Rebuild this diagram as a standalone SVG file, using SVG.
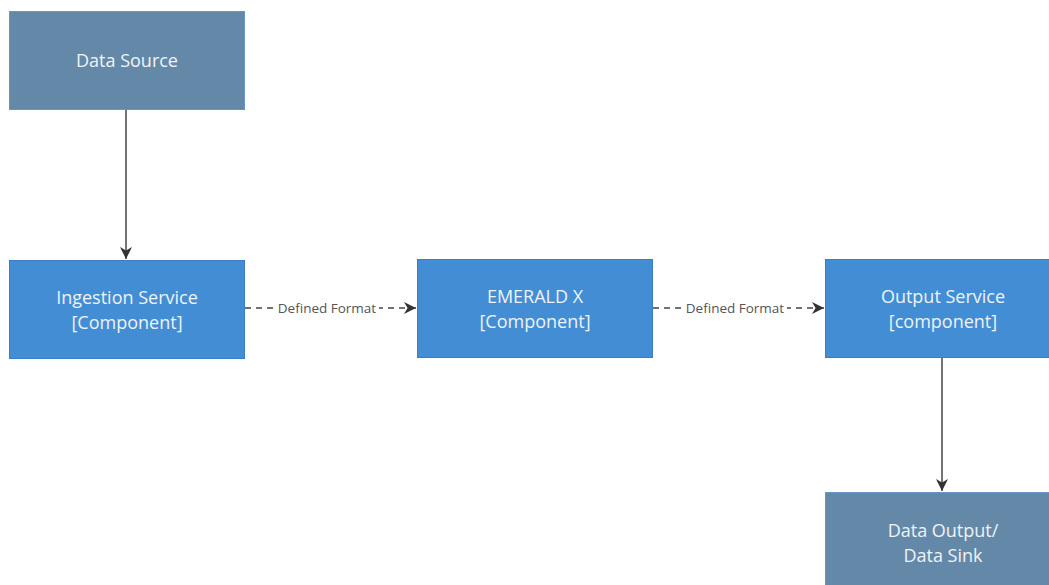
<svg xmlns="http://www.w3.org/2000/svg" width="1049" height="585" viewBox="0 0 1049 585">
<defs>
<style>
.ext{fill:#6489a8;stroke:#6a95c8;stroke-width:1}
.cmp{fill:#438dd5;stroke:#3c7fc0;stroke-width:1}
.lbl{font-family:"Open Sans","Liberation Sans",sans-serif;font-size:18px;fill:#eef3f8;text-anchor:middle}
.edge{stroke:#444;stroke-width:1.5;fill:none}
.dash{stroke-dasharray:6 5}
.elbl{font-family:"Open Sans","Liberation Sans",sans-serif;font-size:13.5px;fill:#555;text-anchor:middle}
</style>
<marker id="arr" viewBox="0 0 10 10" refX="10" refY="5" markerWidth="12" markerHeight="12" markerUnits="userSpaceOnUse" orient="auto">
<path d="M0,0 L10,5 L0,10 L3,5 z" fill="#333"/>
</marker>
</defs>
<rect width="1049" height="585" fill="#fff"/>
<g id="connectors">
<line class="edge" x1="126" y1="110" x2="126" y2="259" marker-end="url(#arr)"/>
<line class="edge dash" x1="245" y1="308" x2="416" y2="308" marker-end="url(#arr)"/>
<rect x="275" y="299" width="104" height="18" fill="#fff"/>
<text class="elbl" x="327" y="313">Defined Format</text>
<line class="edge dash" x1="653" y1="308" x2="824" y2="308" marker-end="url(#arr)"/>
<rect x="683" y="299" width="104" height="18" fill="#fff"/>
<text class="elbl" x="735" y="313">Defined Format</text>
<line class="edge" x1="942" y1="358" x2="942" y2="491" marker-end="url(#arr)"/>
</g>
<g id="data-source">
<rect class="ext" x="9.5" y="11.5" width="235" height="98"/>
<text class="lbl" x="127" y="67">Data Source</text>
</g>
<g id="ingestion-service">
<rect class="cmp" x="9.5" y="260.5" width="235" height="98"/>
<text class="lbl" x="127" y="304">Ingestion Service</text>
<text class="lbl" x="127" y="329">[Component]</text>
</g>
<g id="emerald-x">
<rect class="cmp" x="417.5" y="259.5" width="235" height="98"/>
<text class="lbl" x="535" y="303">EMERALD X</text>
<text class="lbl" x="535" y="328">[Component]</text>
</g>
<g id="output-service">
<rect class="cmp" x="825.5" y="259.5" width="235" height="98"/>
<text class="lbl" x="943" y="303">Output Service</text>
<text class="lbl" x="943" y="328">[component]</text>
</g>
<g id="data-output">
<rect class="ext" x="825.5" y="492.5" width="235" height="98"/>
<text class="lbl" x="943" y="537">Data Output/</text>
<text class="lbl" x="943" y="562">Data Sink</text>
</g>
</svg>
